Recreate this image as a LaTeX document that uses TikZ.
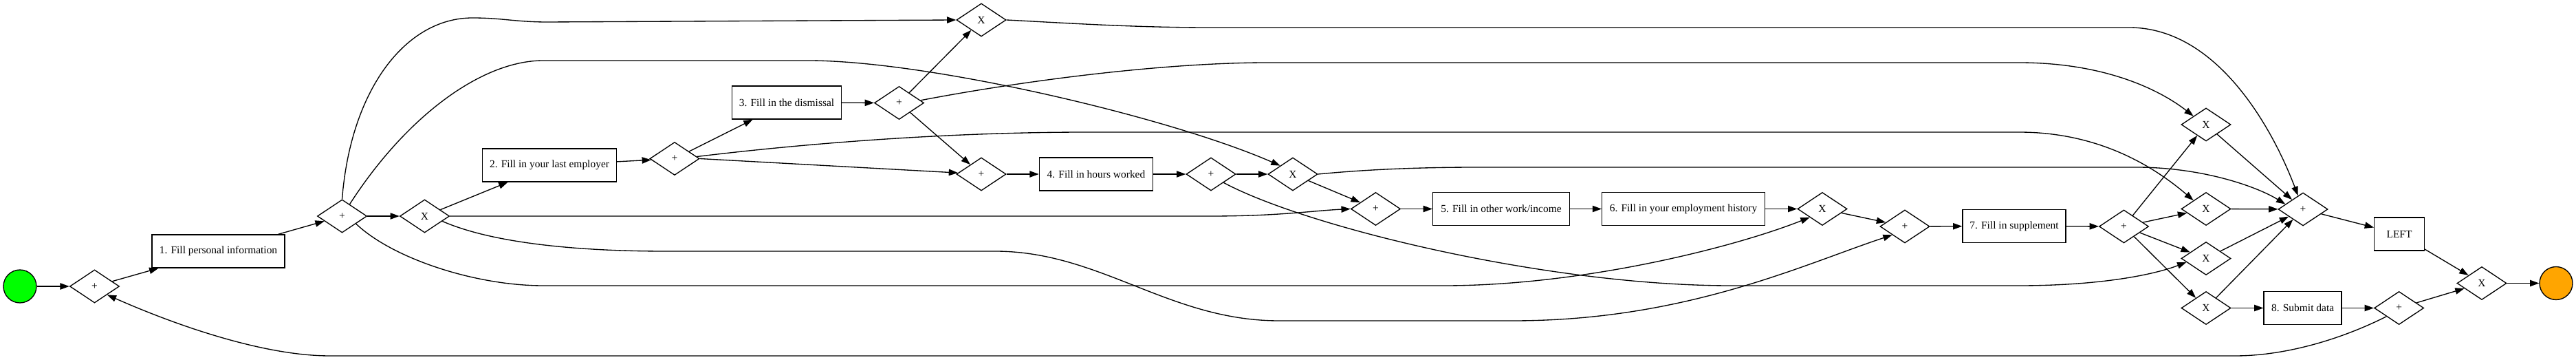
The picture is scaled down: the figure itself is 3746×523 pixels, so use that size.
\documentclass[tikz,border=0pt]{standalone}
\usepackage{fontspec}
\setmainfont{Liberation Serif}
\usetikzlibrary{shapes.geometric,arrows.meta,calc}
\definecolor{startgreen}{RGB}{0,255,0}
\definecolor{endorange}{RGB}{255,165,0}
\begin{document}
\begin{tikzpicture}[x=0.75pt,y=-0.75pt,
  every node/.style={font=\fontsize{11.6}{13}\selectfont},
  task/.style={draw, line width=1pt, rectangle, minimum height=36pt, inner sep=0pt, fill=white},
  gw/.style={draw, line width=1pt, diamond, minimum width=54pt, minimum height=36pt, inner sep=0pt},
  ev/.style={draw, line width=1pt, circle, minimum size=36pt, inner sep=0pt},
  flow/.style={draw, line width=1pt, -{Triangle[length=10pt,width=7pt]}}
]
\useasboundingbox (0,0) rectangle (3746,523);

% nodes
\node[ev, fill=startgreen] (start) at (29,416) {};
\node[gw] (g1) at (137.5,416) {+};
\node[task, minimum width=144.75pt] (b1) at (317.5,365) {1. Fill personal information};
\node[gw] (g2) at (497.5,314) {+};
\node[gw] (g3) at (617.5,314) {X};
\node[task, minimum width=146pt] (b2) at (799,240) {2. Fill in your last employer};
\node[gw] (g4) at (981,230.5) {+};
\node[task, minimum width=119pt] (b3) at (1144,149) {3. Fill in the dismissal};
\node[gw] (g5) at (1307.5,149.5) {+};
\node[gw] (g6) at (1427,29) {X};
\node[gw] (g7) at (1427,253) {+};
\node[task, minimum width=124pt] (b4) at (1594,253) {4. Fill in hours worked};
\node[gw] (g8) at (1761,253) {+};
\node[gw] (g9) at (1880,253) {X};
\node[gw] (g10) at (2000.5,303.5) {+};
\node[task, minimum width=149pt] (b5) at (2183,303.5) {5. Fill in other work/income};
\node[task, minimum width=177.4pt] (b6) at (2448,303.5) {6. Fill in your employment history};
\node[gw] (g11) at (2650,303.5) {X};
\node[gw] (g12) at (2770,329) {+};
\node[task, minimum width=112.5pt] (b7) at (2929,328.5) {7. Fill in supplement};
\node[gw] (g13) at (3088.5,329) {+};
\node[gw] (x1) at (3208,181) {X};
\node[gw] (x2) at (3208,303.5) {X};
\node[gw] (x3) at (3208,375.5) {X};
\node[gw] (x4) at (3208,447.5) {X};
\node[gw] (g14) at (3349,304) {+};
\node[task, minimum width=54.4pt] (left) at (3489,340) {LEFT};
\node[task, minimum width=84.75pt] (b8) at (3348.6,447.5) {8. Submit data};
\node[gw] (g15) at (3488.6,447.5) {+};
\node[gw] (g16) at (3609,411.5) {X};
\node[ev, fill=endorange] (end) at (3717,411.5) {};

% straight flows
\draw[flow] (start) -- (g1);
\draw[flow] (g1) -- (b1);
\draw[flow] (b1) -- (g2);
\draw[flow] (g2) -- (g3);
\draw[flow] (g3) -- (b2);
\draw[flow] (b2) -- (g4);
\draw[flow] (g4) -- (b3);
\draw[flow] (b3) -- (g5);
\draw[flow] (g5) -- (g6);
\draw[flow] (g5) -- (g7);
\draw[flow] (g4.east) -- (g7);
\draw[flow] (g7) -- (b4);
\draw[flow] (b4) -- (g8);
\draw[flow] (g8) -- (g9);
\draw[flow] (g9) -- (g10);
\draw[flow] (g10) -- (b5);
\draw[flow] (b5) -- (b6);
\draw[flow] (b6) -- (g11);
\draw[flow] (g11) -- (g12);
\draw[flow] (g12) -- (b7);
\draw[flow] (b7) -- (g13);
\draw[flow] (g13) -- (x1);
\draw[flow] (g13) -- (x2);
\draw[flow] (g13) -- (x3);
\draw[flow] (g13) -- (x4);
\draw[flow] (x1) -- (g14);
\draw[flow] (x2) -- (g14);
\draw[flow] (x3) -- (g14);
\draw[flow] (x4) -- (g14);
\draw[flow] (x4) -- (b8);
\draw[flow] (b8) -- (g15);
\draw[flow] (g15) -- (g16);
\draw[flow] (g14) -- (left);
\draw[flow] (left) -- (g16);
\draw[flow] (g16) -- (end);

% curved flows
\draw[flow] (g2.north) .. controls (510,130) and (590,26) .. (687,26)
  .. controls (730,26) and (750,32) .. (796,32) -- (g6.west);
\draw[flow] ($(g2.north)!0.3!(g2.east)$) .. controls (590,170) and (700,88) .. (790,88)
  -- (1175,88) .. controls (1350,88) and (1700,170) .. (g9.north west);
\draw[flow] ($(g3.east)!0.3!(g3.south)$) .. controls (720,355) and (850,365) .. (968,365)
  -- (1447,365) .. controls (1600,365) and (1700,466) .. (1860,466)
  -- (2200,466) .. controls (2450,466) and (2620,385) .. (g12.south west);
\draw[flow] ($(g2.south)!0.55!(g2.east)$) .. controls (570,375) and (690,415) .. (790,415)
  -- (2100,415) .. controls (2300,415) and (2520,360) .. (g11.south west);
\draw[flow] (g8.south east) .. controls (1900,330) and (2250,415) .. (2517,415)
  -- (2936,415) .. controls (3050,415) and (3130,400) .. ($(x3.west)!0.22!(x3.south)$);
\draw[flow] ($(g4.east)!0.12!(g4.north)$) .. controls (1200,205) and (1400,192) .. (1580,192)
  -- (2936,192) .. controls (3050,192) and (3130,240) .. (x2.north west);
\draw[flow] ($(g5.east)!0.15!(g5.north)$) .. controls (1500,115) and (1700,91) .. (1843,91)
  -- (2936,91) .. controls (3060,91) and (3140,130) .. (x1.north west);
\draw[flow] (g6.east) .. controls (1560,34) and (1650,40) .. (1760,40)
  -- (3096,40) .. controls (3230,40) and (3310,200) .. ($(g14.west)!0.8!(g14.north)$);
\draw[flow] (g9.east) .. controls (2000,245) and (2080,243) .. (2150,243)
  -- (3107,243) .. controls (3200,243) and (3280,270) .. ($(g14.west)!0.3!(g14.north)$);
\draw[flow] (g3.east) -- (1760,314) .. controls (1860,314) and (1910,306) .. (g10.west);
\draw[flow] (g15.south west) .. controls (3400,495) and (3320,517) .. (3250,517)
  -- (480,517) .. controls (380,517) and (250,470) .. (g1.south east);
\end{tikzpicture}
\end{document}
